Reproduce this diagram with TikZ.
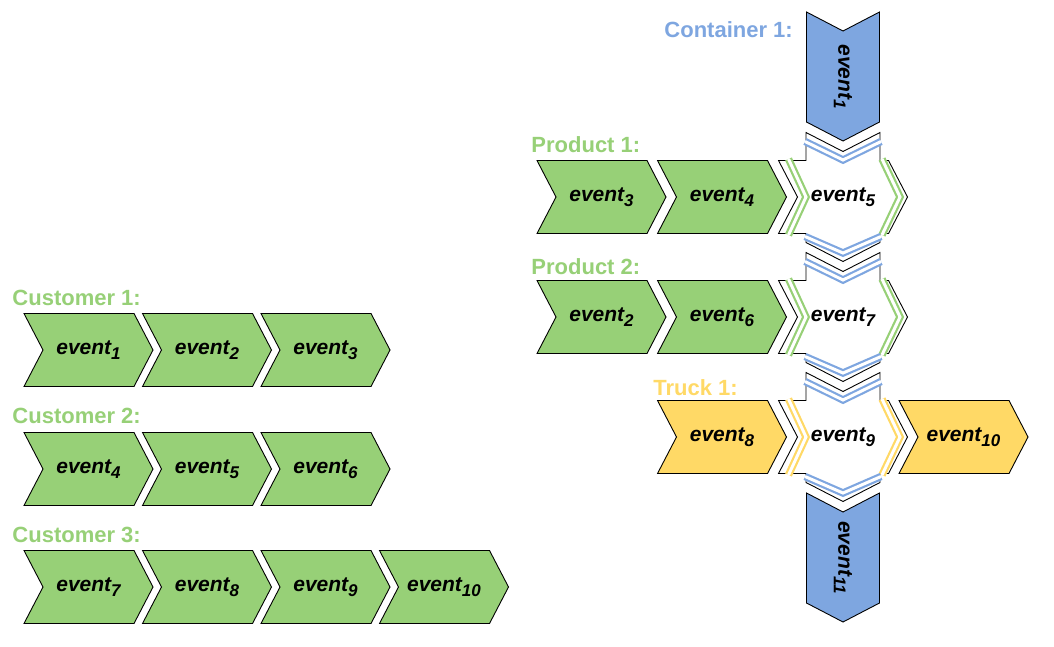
\documentclass[tikz,border=0pt]{standalone}
\usepackage{fontspec}
\setmainfont{Liberation Sans}
\usetikzlibrary{shapes.symbols}
\definecolor{evgreen}{HTML}{97D077}
\definecolor{evblue}{HTML}{7EA6E0}
\definecolor{evyellow}{HTML}{FFD966}
\newcommand{\evsub}[1]{\raisebox{-4.5pt}{\fontsize{17}{17}\selectfont#1}}
\begin{document}
\begin{tikzpicture}[x=1pt,y=-1pt,line width=0.9pt]
            %
            % `chevron' is used for all event boxes.
            % `objlabel' is used for the names above the rows.
            % `twin' is used for the double lines on shared events.
            \tikzstyle{chevron} = [signal,signal to=east,signal from=west,signal pointer angle=125,draw=black,minimum width=129pt,minimum height=73pt,inner sep=0pt,outer sep=0pt,font=\fontsize{21}{25}\selectfont\bfseries\itshape]
            \tikzstyle{greenev} = [chevron,fill=evgreen]
            \tikzstyle{yellowev} = [chevron,fill=evyellow]
            \tikzstyle{blueev} = [chevron,fill=evblue,rotate=-90]
            \tikzstyle{sharedtext} = [inner sep=0pt,font=\fontsize{21}{25}\selectfont\bfseries\itshape]
            \tikzstyle{objlabel} = [anchor=base west,inner sep=0pt,font=\fontsize{22}{26}\selectfont\bfseries]
            \tikzstyle{twin} = [double=white,line width=2.2pt,double distance=3pt]
            \useasboundingbox (0,0) rectangle (1054,647);
            %
            % Customers
            \node[objlabel,text=evgreen] (cust1) at (12,305) {Customer 1:};
            \node[objlabel,text=evgreen] (cust2) at (12,423.5) {Customer 2:};
            \node[objlabel,text=evgreen] (cust3) at (12,542) {Customer 3:};
            \foreach \n [count=\i from 0] in {1,2,3}
                \node[greenev] (c1e\n) at ({88.5+118.5*\i},350) {event\evsub{\n}};
            \foreach \n [count=\i from 0] in {4,5,6}
                \node[greenev] (c2e\n) at ({88.5+118.5*\i},469) {event\evsub{\n}};
            \foreach \n [count=\i from 0] in {7,8,9,10}
                \node[greenev] (c3e\n) at ({88.5+118.5*\i},587) {event\evsub{\n}};
            %
            % Shared events
            \foreach \num/\cy/\col in {5/197/evgreen,7/317/evgreen,9/437/evyellow}{
                \begin{scope}[shift={(843,\cy)}]
                    \draw[fill=white] (-37,-64.5) -- (0,-45.5) -- (37,-64.5) -- (37,-36.5) -- (45.5,-36.5) -- (64.5,0) -- (45.5,36.5) -- (37,36.5) -- (37,45.5) -- (0,64.5) -- (-37,45.5) -- (-37,36.5) -- (-64.5,36.5) -- (-45.5,0) -- (-64.5,-36.5) -- (-37,-36.5) -- cycle;
                    \draw[twin,draw=\col] (-54.5,-38) -- (-37,0) -- (-54.5,38);
                    \draw[twin,draw=\col] (39,-38) -- (57,0) -- (39,38);
                    \draw[twin,draw=evblue] (-38,-55.5) -- (0,-37) -- (38,-55.5);
                    \draw[twin,draw=evblue] (-38,39.5) -- (0,56) -- (38,39.5);
                    \node[sharedtext] (e\num) at (0,0) {event\evsub{\num}};
                \end{scope}
            }
            %
            % Container 1
            \node[objlabel,text=evblue] (cont1) at (664,38) {Container 1:};
            \node[blueev] (e1) at (843,76.5) {event\evsub{1}};
            \node[blueev] (e11) at (843,557.5) {event\evsub{11}};
            %
            % Product 1
            \node[objlabel,text=evgreen] (prod1) at (531,153) {Product 1:};
            \node[greenev] (e3) at (601.5,197) {event\evsub{3}};
            \node[greenev] (e4) at (722,197) {event\evsub{4}};
            %
            % Product 2
            \node[objlabel,text=evgreen] (prod2) at (531,274) {Product 2:};
            \node[greenev] (e2) at (601.5,317) {event\evsub{2}};
            \node[greenev] (e6) at (722,317) {event\evsub{6}};
            %
            % Truck 1
            \node[objlabel,text=evyellow] (truck1) at (653,395) {Truck 1:};
            \node[yellowev] (e8) at (722,437) {event\evsub{8}};
            \node[yellowev] (e10) at (963.5,437) {event\evsub{10}};
        \end{tikzpicture}
\end{document}
